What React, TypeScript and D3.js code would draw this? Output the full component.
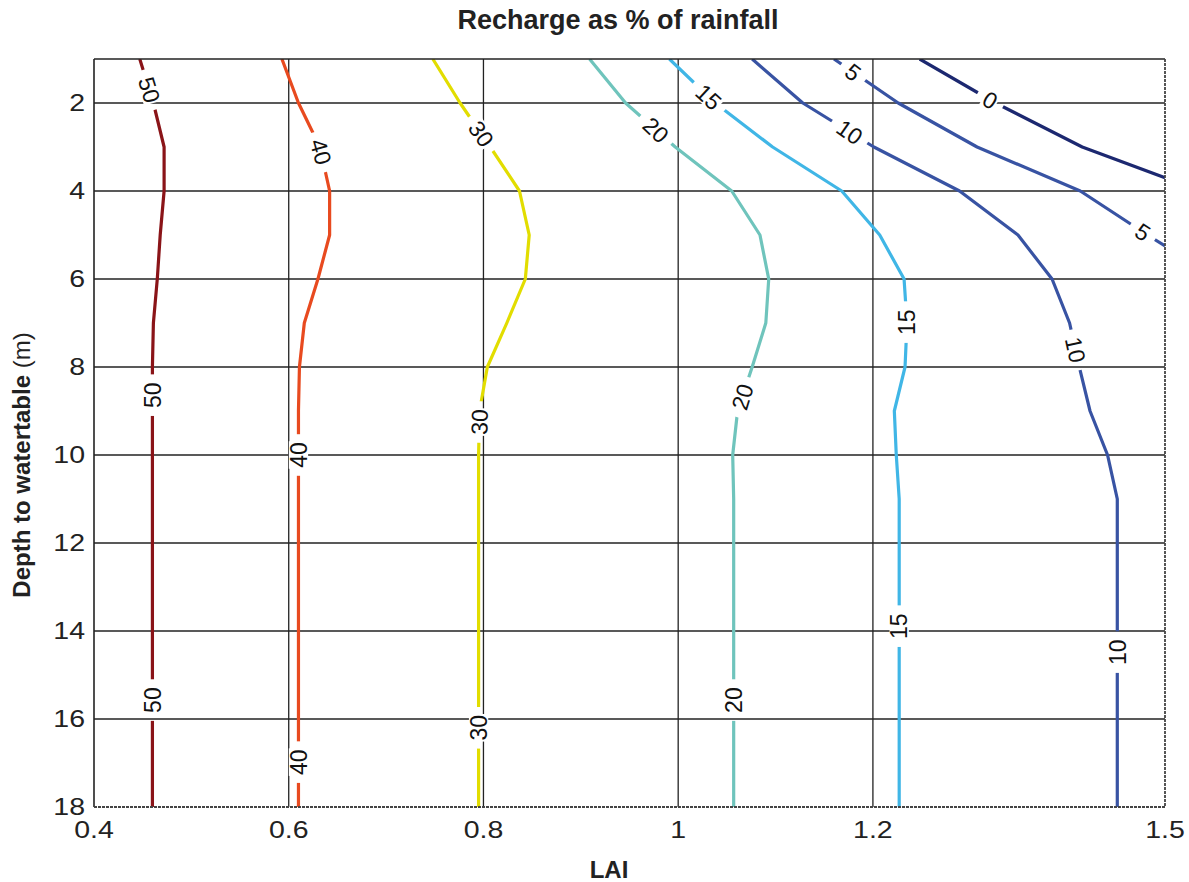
import React from "react";
import * as d3 from "d3";

// ---------- data ----------
const depths = [1, 2, 3, 4, 5, 6, 7, 8, 9, 10, 11, 12, 13, 14, 15, 16, 17, 18];

const levels = [50, 40, 30, 20, 15, 10, 5, 0];

// LAI of each contour at each depth (m)
const lai50 = [0.447, 0.461, 0.472, 0.472, 0.468, 0.465, 0.461, 0.46, 0.46, 0.46, 0.46, 0.46, 0.46, 0.46, 0.46, 0.46, 0.46, 0.46];
const lai40 = [0.593, 0.61, 0.632, 0.642, 0.642, 0.63, 0.616, 0.611, 0.61, 0.61, 0.61, 0.61, 0.61, 0.61, 0.61, 0.61, 0.61, 0.61];
const lai30 = [0.748, 0.776, 0.807, 0.837, 0.847, 0.843, 0.824, 0.804, 0.796, 0.795, 0.795, 0.795, 0.795, 0.795, 0.795, 0.795, 0.795, 0.795];
const lai20 = [0.909, 0.946, 0.997, 1.055, 1.084, 1.093, 1.09, 1.076, 1.061, 1.056, 1.057, 1.057, 1.057, 1.057, 1.057, 1.057, 1.057, 1.057];
const lai15 = [0.991, 1.038, 1.097, 1.168, 1.207, 1.232, 1.235, 1.233, 1.222, 1.224, 1.227, 1.227, 1.227, 1.227, 1.227, 1.227, 1.227, 1.227];
const lai10 = [1.076, 1.128, 1.201, 1.289, 1.349, 1.384, 1.402, 1.412, 1.423, 1.441, 1.451, 1.451, 1.451, 1.451, 1.451, 1.451, 1.451, 1.451];
const lai5 = [1.16, 1.226, 1.307, 1.413, 1.482];
const lai0 = [1.248, 1.326, 1.415];
// where the short contours leave the plot at LAI = 1.5
const exit5 = [1.5, 5.25];
const exit0 = [1.5, 3.7];

const contourLAI = [lai50, lai40, lai30, lai20, lai15, lai10, lai5, lai0];
const contourExit: (number[] | null)[] = [null, null, null, null, null, null, exit5, exit0];

// contour labels: [level, depth, rotation]
const labels: [number, number, number][] = [
  [50, 1.7, 73], [50, 8.64, -90], [50, 15.57, -90],
  [40, 3.11, 74], [40, 10.0, -90], [40, 16.98, -90],
  [30, 2.7, 55], [30, 9.25, -88], [30, 16.2, -90],
  [20, 2.61, 43], [20, 8.68, -73], [20, 15.57, -90],
  [15, 1.86, 43], [15, 6.98, -90], [15, 13.89, -90],
  [10, 2.66, 35], [10, 7.61, 78], [10, 14.48, -90],
  [5, 1.3, 38], [5, 4.93, 33],
  [0, 1.93, 30],
];

const xTicks = [0.4, 0.6, 0.8, 1, 1.2, 1.5];
const yTicks = [2, 4, 6, 8, 10, 12, 14, 16, 18];

const colors: Record<number, string> = {
  50: "#8a1418",
  40: "#e84a1f",
  30: "#e2dd00",
  20: "#6fc4bc",
  15: "#40b6e6",
  10: "#3853a3",
  5: "#3853a3",
  0: "#1c2870",
};

// ---------- layout ----------
const W = 1189;
const H = 882;
const M = { left: 94, right: 1165, top: 59, bottom: 807 };
const TICK_FONT = 23;
const TICK_STRETCH = 1.24;

export default function App() {
  const x = d3.scaleLinear().domain([0.4, 1.5]).range([M.left, M.right]);
  const y = d3.scaleLinear().domain([1, 18]).range([M.top, M.bottom]);

  const pts = (i: number): [number, number][] => {
    const arr = contourLAI[i];
    const p: [number, number][] = arr.map((v, k) => [v, depths[k]]);
    const e = contourExit[i];
    if (e) p.push([e[0], e[1]]);
    return p;
  };

  const line = d3
    .line<[number, number]>()
    .x((d) => x(d[0]))
    .y((d) => y(d[1]));

  const laiAt = (i: number, dep: number) => {
    const p = pts(i);
    for (let k = 0; k < p.length - 1; k++) {
      const [a0, d0] = p[k];
      const [a1, d1] = p[k + 1];
      if (dep >= d0 && dep <= d1) {
        const t = (dep - d0) / (d1 - d0);
        return a0 + t * (a1 - a0);
      }
    }
    return p[p.length - 1][0];
  };

  const labelFont = 23;
  const labelItems = labels.map(([lev, dep, rot], j) => {
    const i = levels.indexOf(lev);
    const cx = x(laiAt(i, dep));
    const cy = y(dep);
    const txt = String(lev);
    const tw = txt.length * labelFont * 0.556;
    return { j, i, lev, cx, cy, rot, txt, tw };
  });

  return (
    <svg
      width={W}
      height={H}
      style={{ position: "absolute", left: 0, top: 0, background: "#fff" }}
      fontFamily="'Liberation Sans', Arial, Helvetica, sans-serif"
    >
      <defs>
        <clipPath id="plotclip">
          <rect x={M.left} y={M.top} width={M.right - M.left} height={M.bottom - M.top} />
        </clipPath>
        {levels.map((lev, i) => (
          <mask id={`m${i}`} key={i} maskUnits="userSpaceOnUse" x={0} y={0} width={W} height={H}>
            <rect x={0} y={0} width={W} height={H} fill="#fff" />
            {labelItems
              .filter((l) => l.i === i)
              .map((l) => (
                <rect
                  key={l.j}
                  x={-l.tw / 2 - 8}
                  y={-9}
                  width={l.tw + 16}
                  height={18}
                  fill="#000"
                  transform={`translate(${l.cx},${l.cy}) rotate(${l.rot})`}
                />
              ))}
          </mask>
        ))}
      </defs>

      {/* grid */}
      <g stroke="#222" strokeWidth={1.3}>
        {xTicks.slice(1, -1).map((t) => (
          <line key={t} x1={x(t)} x2={x(t)} y1={M.top} y2={M.bottom} />
        ))}
        {yTicks.slice(0, -1).map((t) => (
          <line key={t} x1={M.left} x2={M.right} y1={y(t)} y2={y(t)} />
        ))}
      </g>

      {/* contours */}
      <g clipPath="url(#plotclip)" fill="none" strokeWidth={3.2} strokeLinejoin="round">
        {levels.map((lev, i) => (
          <path key={lev} d={line(pts(i)) || ""} stroke={colors[lev]} mask={`url(#m${i})`} />
        ))}
      </g>

      {/* frame */}
      <g fill="none">
        <line x1={M.left} x2={M.right} y1={M.top} y2={M.top} stroke="#222" strokeWidth={1.6} />
        <line x1={M.left} x2={M.left} y1={M.top} y2={M.bottom} stroke="#222" strokeWidth={1.6} />
        <line x1={M.left} x2={M.right} y1={M.bottom} y2={M.bottom} stroke="#444" strokeWidth={1.8} strokeDasharray="3,1" />
        <line x1={M.right} x2={M.right} y1={M.top} y2={M.bottom} stroke="#444" strokeWidth={1.8} strokeDasharray="3,1" />
      </g>

      {/* contour labels */}
      {labelItems.map((l) => (
        <g key={l.j} transform={`translate(${l.cx},${l.cy}) rotate(${l.rot})`}>
          <rect x={-l.tw / 2 - 1} y={-labelFont * 0.42} width={l.tw + 2} height={labelFont * 0.84} fill="#fff" />
          <text textAnchor="middle" dy="0.36em" fontSize={labelFont} fill="#111">
            {l.txt}
          </text>
        </g>
      ))}

      {/* x tick labels */}
      {xTicks.map((t) => (
        <text
          key={t}
          transform={`translate(${x(t)},${M.bottom + 31}) scale(${TICK_STRETCH},1)`}
          textAnchor="middle"
          fontSize={TICK_FONT}
          fill="#222"
        >
          {String(t)}
        </text>
      ))}
      {/* y tick labels */}
      {yTicks.map((t) => (
        <text
          key={t}
          transform={`translate(${M.left - 9},${y(t)}) scale(${TICK_STRETCH},1)`}
          dy="0.36em"
          textAnchor="end"
          fontSize={TICK_FONT}
          fill="#222"
        >
          {String(t)}
        </text>
      ))}

      {/* titles */}
      <text x={618} y={29} textAnchor="middle" fontSize={27} fontWeight="bold" fill="#222">
        Recharge as % of rainfall
      </text>
      <text x={609} y={878} textAnchor="middle" fontSize={24} fontWeight="bold" fill="#222">
        LAI
      </text>
      <text
        transform={`translate(30,465) rotate(-90)`}
        textAnchor="middle"
        fontSize={24}
        fill="#222"
      >
        <tspan fontWeight="bold">Depth to watertable</tspan>
        <tspan> (m)</tspan>
      </text>
    </svg>
  );
}
